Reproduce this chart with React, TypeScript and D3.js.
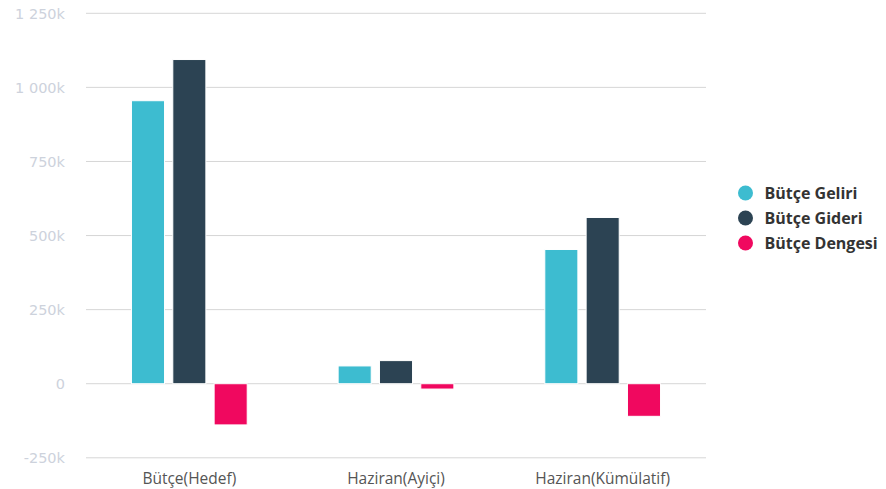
import React from "react";
import * as d3 from "d3";

const categories = ["Bütçe(Hedef)", "Haziran(Ayiçi)", "Haziran(Kümülatif)"];
const seriesNames = ["Bütçe Geliri", "Bütçe Gideri", "Bütçe Dengesi"];
const seriesColors = ["#3dbcd0", "#2c4353", "#f0085f"];
const geliri = [955, 60, 453];
const gideri = [1094, 78, 561];
const dengesi = [-139, -18, -110];
const yTicks = [-250, 0, 250, 500, 750, 1000, 1250];

const W = 886;
const H = 489;
const plotLeft = 86;
const plotRight = 706;

export default function App() {
  const values = [geliri, gideri, dengesi];
  const y = d3.scaleLinear().domain([-250, 1250]).range([457.8, 13.3]);
  const x0 = d3.scaleBand<string>().domain(categories).range([plotLeft, plotRight]).paddingInner(0).paddingOuter(0);
  const groupPad = 0.2;
  const bw = x0.bandwidth();
  const x1 = d3
    .scaleBand<number>()
    .domain([0, 1, 2])
    .range([bw * groupPad, bw * (1 - groupPad)])
    .paddingInner(0.2)
    .paddingOuter(0.1);
  const fmt = (v: number) => {
    if (v === 0) return "0";
    const s = Math.abs(v).toString().replace(/\B(?=(\d{3})+(?!\d))/g, " ");
    return (v < 0 ? "-" : "") + s + "k";
  };
  return (
    <svg width={W} height={H} style={{ position: "absolute", left: 0, top: 0 }}>
      <rect width={W} height={H} fill="#fff" />
      {yTicks.map((t) => (
        <g key={t}>
          <line x1={plotLeft} x2={plotRight} y1={y(t)} y2={y(t)} stroke="#d6d6d6" strokeWidth={1} />
          <text
            x={65}
            y={y(t)}
            dy="0.36em"
            textAnchor="end"
            fontFamily="'DejaVu Sans', sans-serif"
            fontSize={14.5}
            fill="#cdd2dc"
          >
            {fmt(t)}
          </text>
        </g>
      ))}
      {categories.map((c, ci) => (
        <g key={c} transform={`translate(${x0(c)},0)`}>
          {values.map((arr, si) => {
            const v = arr[ci];
            const y0 = y(0);
            const yv = y(v);
            return (
              <rect
                key={si}
                x={x1(si)}
                y={Math.min(y0, yv)}
                width={x1.bandwidth()}
                height={Math.abs(yv - y0)}
                fill={seriesColors[si]}
                stroke="#fff"
                strokeWidth={1}
              />
            );
          })}
          <text
            x={bw / 2}
            y={484}
            textAnchor="middle"
            fontFamily="'Open Sans', sans-serif"
            fontSize={15.5}
            fill="#555"
          >
            {c}
          </text>
        </g>
      ))}
      {seriesNames.map((n, i) => (
        <g key={n} transform={`translate(745.5,${193 + i * 25})`}>
          <circle r={7.5} fill={seriesColors[i]} />
          <text
            x={19}
            dy="0.35em"
            fontFamily="'Open Sans', sans-serif"
            fontWeight="bold"
            fontSize={16}
            fill="#333"
          >
            {n}
          </text>
        </g>
      ))}
    </svg>
  );
}
